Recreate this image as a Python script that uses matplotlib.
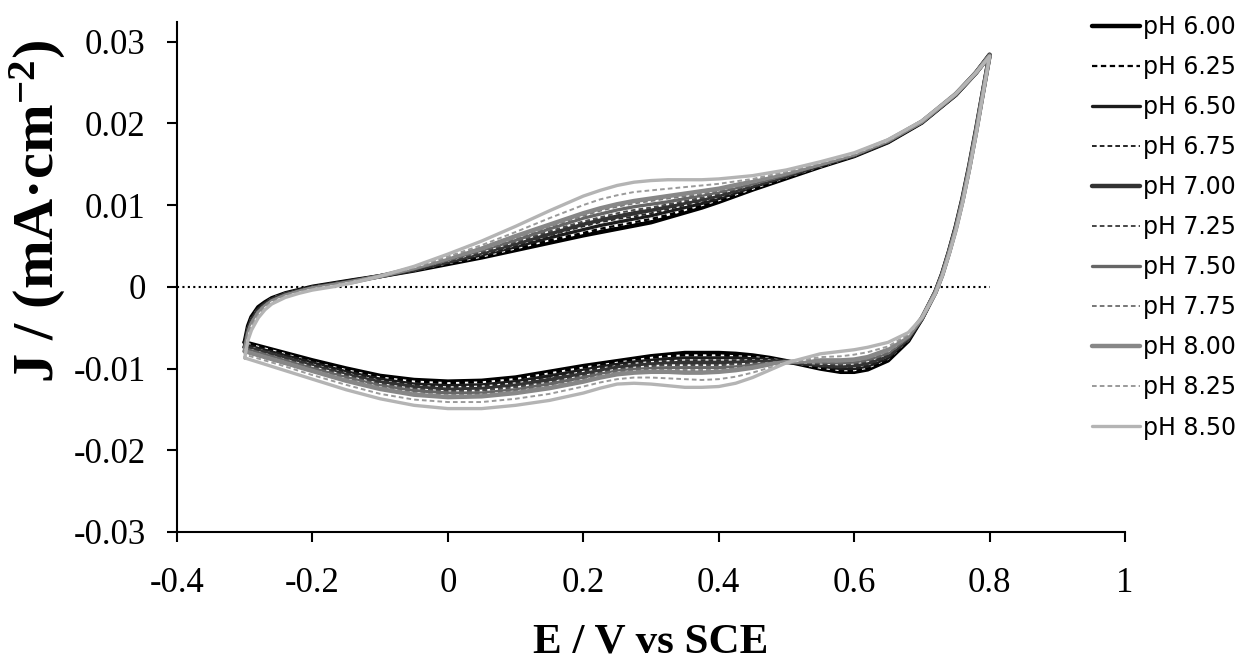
import matplotlib
matplotlib.use("Agg")
import matplotlib.pyplot as plt

# Potential sweep (V vs SCE): anodic scan -0.30 -> 0.80 V, then cathodic scan back to -0.30 V
potential = [
    -0.300, -0.295, -0.290, -0.280, -0.270, -0.260, -0.240, -0.220, -0.200,
    -0.170, -0.140, -0.100, -0.050, 0.000, 0.050, 0.100, 0.150, 0.200,
    0.225, 0.250, 0.275, 0.300, 0.325, 0.350, 0.375, 0.400, 0.450,
    0.500, 0.550, 0.600, 0.650, 0.700, 0.750, 0.780, 0.800,
    0.790, 0.780, 0.770, 0.760, 0.750, 0.740, 0.730, 0.720, 0.700, 0.680,
    0.650, 0.620, 0.600, 0.580, 0.550, 0.500, 0.475, 0.450, 0.425, 0.400,
    0.375, 0.350, 0.325, 0.300, 0.275, 0.250, 0.225, 0.200, 0.150, 0.100,
    0.050, 0.000, -0.050, -0.100, -0.150, -0.200, -0.250, -0.300,
]

# Current density J (mA/cm2) along the sweep for each buffer pH
j_ph600 = [
    -0.0068, -0.0048, -0.0037, -0.0025, -0.0019, -0.0014, -0.0008, -0.0004, 0.0000,
    0.0004, 0.0008, 0.0013, 0.0020, 0.0028, 0.0036, 0.0045, 0.0054, 0.0063,
    0.0067, 0.0071, 0.0075, 0.0079, 0.0085, 0.0091, 0.0097, 0.0104, 0.0119,
    0.0133, 0.0147, 0.0160, 0.0177, 0.0201, 0.0235, 0.0262, 0.0284,
    0.0238, 0.0192, 0.0148, 0.0108, 0.0073, 0.0043, 0.0016, -0.0006, -0.0039, -0.0066,
    -0.0090, -0.0101, -0.0104, -0.0104, -0.0100, -0.0091, -0.0087, -0.0084, -0.0082, -0.0081,
    -0.0081, -0.0081, -0.0083, -0.0085, -0.0088, -0.0091, -0.0094, -0.0097, -0.0104, -0.0111,
    -0.0115, -0.0116, -0.0114, -0.0109, -0.0100, -0.0090, -0.0079, -0.0068,
]
j_ph625 = [
    -0.0069, -0.0049, -0.0038, -0.0026, -0.0020, -0.0014, -0.0008, -0.0004, 0.0000,
    0.0004, 0.0008, 0.0013, 0.0020, 0.0029, 0.0037, 0.0047, 0.0057, 0.0066,
    0.0071, 0.0075, 0.0079, 0.0083, 0.0088, 0.0094, 0.0100, 0.0106, 0.0120,
    0.0134, 0.0147, 0.0160, 0.0177, 0.0201, 0.0235, 0.0262, 0.0284,
    0.0238, 0.0192, 0.0148, 0.0108, 0.0073, 0.0043, 0.0016, -0.0006, -0.0039, -0.0065,
    -0.0088, -0.0099, -0.0102, -0.0102, -0.0099, -0.0091, -0.0088, -0.0086, -0.0085, -0.0084,
    -0.0084, -0.0084, -0.0085, -0.0087, -0.0090, -0.0093, -0.0096, -0.0099, -0.0106, -0.0113,
    -0.0117, -0.0118, -0.0116, -0.0111, -0.0102, -0.0092, -0.0080, -0.0069,
]
j_ph650 = [
    -0.0071, -0.0051, -0.0039, -0.0027, -0.0020, -0.0015, -0.0009, -0.0005, -0.0001,
    0.0003, 0.0008, 0.0013, 0.0021, 0.0030, 0.0039, 0.0049, 0.0060, 0.0070,
    0.0075, 0.0079, 0.0083, 0.0087, 0.0092, 0.0097, 0.0102, 0.0108, 0.0122,
    0.0135, 0.0148, 0.0161, 0.0177, 0.0201, 0.0235, 0.0262, 0.0284,
    0.0237, 0.0191, 0.0147, 0.0107, 0.0072, 0.0042, 0.0016, -0.0006, -0.0039, -0.0064,
    -0.0087, -0.0097, -0.0100, -0.0100, -0.0097, -0.0091, -0.0089, -0.0088, -0.0087, -0.0087,
    -0.0087, -0.0087, -0.0088, -0.0090, -0.0092, -0.0095, -0.0098, -0.0102, -0.0109, -0.0116,
    -0.0120, -0.0121, -0.0119, -0.0113, -0.0104, -0.0093, -0.0082, -0.0071,
]
j_ph675 = [
    -0.0072, -0.0052, -0.0041, -0.0028, -0.0021, -0.0016, -0.0009, -0.0005, -0.0001,
    0.0003, 0.0007, 0.0013, 0.0021, 0.0031, 0.0040, 0.0051, 0.0063, 0.0074,
    0.0079, 0.0083, 0.0086, 0.0090, 0.0095, 0.0100, 0.0105, 0.0110, 0.0123,
    0.0135, 0.0148, 0.0161, 0.0178, 0.0201, 0.0235, 0.0262, 0.0284,
    0.0237, 0.0191, 0.0147, 0.0107, 0.0072, 0.0042, 0.0015, -0.0006, -0.0039, -0.0064,
    -0.0085, -0.0095, -0.0098, -0.0098, -0.0096, -0.0091, -0.0090, -0.0090, -0.0090, -0.0090,
    -0.0090, -0.0090, -0.0091, -0.0092, -0.0094, -0.0097, -0.0100, -0.0104, -0.0112, -0.0118,
    -0.0122, -0.0123, -0.0121, -0.0115, -0.0106, -0.0095, -0.0084, -0.0072,
]
j_ph700 = [
    -0.0074, -0.0053, -0.0042, -0.0029, -0.0022, -0.0016, -0.0009, -0.0005, -0.0001,
    0.0003, 0.0007, 0.0013, 0.0021, 0.0031, 0.0042, 0.0053, 0.0065, 0.0077,
    0.0082, 0.0086, 0.0090, 0.0094, 0.0098, 0.0103, 0.0107, 0.0112, 0.0124,
    0.0136, 0.0149, 0.0161, 0.0178, 0.0202, 0.0235, 0.0262, 0.0283,
    0.0237, 0.0190, 0.0146, 0.0106, 0.0072, 0.0042, 0.0015, -0.0007, -0.0039, -0.0063,
    -0.0084, -0.0093, -0.0096, -0.0097, -0.0095, -0.0092, -0.0092, -0.0092, -0.0093, -0.0093,
    -0.0093, -0.0093, -0.0094, -0.0095, -0.0097, -0.0099, -0.0103, -0.0107, -0.0114, -0.0121,
    -0.0125, -0.0126, -0.0123, -0.0117, -0.0108, -0.0097, -0.0085, -0.0074,
]
j_ph725 = [
    -0.0075, -0.0054, -0.0043, -0.0030, -0.0022, -0.0017, -0.0010, -0.0005, -0.0001,
    0.0003, 0.0007, 0.0013, 0.0022, 0.0032, 0.0043, 0.0055, 0.0068, 0.0080,
    0.0085, 0.0090, 0.0094, 0.0097, 0.0101, 0.0105, 0.0109, 0.0114, 0.0125,
    0.0137, 0.0149, 0.0161, 0.0178, 0.0202, 0.0235, 0.0262, 0.0283,
    0.0237, 0.0190, 0.0146, 0.0106, 0.0071, 0.0042, 0.0015, -0.0007, -0.0039, -0.0062,
    -0.0082, -0.0091, -0.0094, -0.0095, -0.0094, -0.0092, -0.0093, -0.0094, -0.0095, -0.0096,
    -0.0096, -0.0096, -0.0096, -0.0097, -0.0099, -0.0101, -0.0105, -0.0109, -0.0117, -0.0123,
    -0.0127, -0.0128, -0.0125, -0.0119, -0.0109, -0.0098, -0.0087, -0.0075,
]
j_ph750 = [
    -0.0076, -0.0055, -0.0044, -0.0031, -0.0023, -0.0017, -0.0010, -0.0006, -0.0002,
    0.0002, 0.0007, 0.0013, 0.0022, 0.0033, 0.0045, 0.0057, 0.0071, 0.0084,
    0.0089, 0.0094, 0.0098, 0.0101, 0.0104, 0.0108, 0.0112, 0.0116, 0.0126,
    0.0137, 0.0150, 0.0162, 0.0178, 0.0202, 0.0235, 0.0262, 0.0283,
    0.0236, 0.0189, 0.0145, 0.0105, 0.0071, 0.0041, 0.0015, -0.0007, -0.0039, -0.0062,
    -0.0081, -0.0089, -0.0092, -0.0093, -0.0092, -0.0092, -0.0094, -0.0096, -0.0098, -0.0099,
    -0.0099, -0.0099, -0.0099, -0.0100, -0.0101, -0.0103, -0.0107, -0.0111, -0.0119, -0.0126,
    -0.0130, -0.0130, -0.0127, -0.0121, -0.0111, -0.0100, -0.0088, -0.0076,
]
j_ph775 = [
    -0.0078, -0.0057, -0.0045, -0.0032, -0.0024, -0.0018, -0.0011, -0.0006, -0.0002,
    0.0002, 0.0006, 0.0013, 0.0023, 0.0034, 0.0046, 0.0060, 0.0074, 0.0087,
    0.0093, 0.0098, 0.0102, 0.0105, 0.0108, 0.0111, 0.0114, 0.0118, 0.0128,
    0.0138, 0.0150, 0.0162, 0.0179, 0.0202, 0.0236, 0.0262, 0.0283,
    0.0236, 0.0189, 0.0145, 0.0105, 0.0070, 0.0041, 0.0014, -0.0007, -0.0038, -0.0061,
    -0.0079, -0.0087, -0.0090, -0.0091, -0.0091, -0.0092, -0.0095, -0.0098, -0.0100, -0.0102,
    -0.0102, -0.0102, -0.0102, -0.0102, -0.0103, -0.0105, -0.0109, -0.0114, -0.0122, -0.0128,
    -0.0132, -0.0133, -0.0130, -0.0123, -0.0113, -0.0102, -0.0090, -0.0078,
]
j_ph800 = [
    -0.0079, -0.0058, -0.0046, -0.0032, -0.0024, -0.0018, -0.0011, -0.0006, -0.0002,
    0.0002, 0.0006, 0.0013, 0.0023, 0.0035, 0.0047, 0.0062, 0.0076, 0.0090,
    0.0096, 0.0101, 0.0105, 0.0108, 0.0111, 0.0114, 0.0117, 0.0120, 0.0129,
    0.0139, 0.0150, 0.0162, 0.0179, 0.0202, 0.0236, 0.0262, 0.0283,
    0.0236, 0.0189, 0.0145, 0.0105, 0.0070, 0.0041, 0.0014, -0.0007, -0.0038, -0.0060,
    -0.0077, -0.0086, -0.0089, -0.0090, -0.0090, -0.0092, -0.0095, -0.0099, -0.0102, -0.0104,
    -0.0105, -0.0105, -0.0104, -0.0104, -0.0105, -0.0107, -0.0111, -0.0116, -0.0124, -0.0130,
    -0.0134, -0.0135, -0.0132, -0.0125, -0.0115, -0.0103, -0.0091, -0.0079,
]
j_ph825 = [
    -0.0083, -0.0061, -0.0049, -0.0035, -0.0026, -0.0019, -0.0012, -0.0007, -0.0003,
    0.0001, 0.0006, 0.0013, 0.0024, 0.0037, 0.0051, 0.0067, 0.0084, 0.0100,
    0.0107, 0.0112, 0.0116, 0.0118, 0.0120, 0.0122, 0.0124, 0.0126, 0.0132,
    0.0141, 0.0152, 0.0163, 0.0179, 0.0203, 0.0236, 0.0262, 0.0282,
    0.0235, 0.0187, 0.0143, 0.0103, 0.0069, 0.0040, 0.0014, -0.0008, -0.0038, -0.0058,
    -0.0073, -0.0080, -0.0083, -0.0085, -0.0086, -0.0093, -0.0099, -0.0105, -0.0110, -0.0113,
    -0.0114, -0.0113, -0.0112, -0.0111, -0.0111, -0.0113, -0.0117, -0.0122, -0.0131, -0.0137,
    -0.0141, -0.0141, -0.0138, -0.0131, -0.0120, -0.0108, -0.0095, -0.0083,
]
j_ph850 = [
    -0.0087, -0.0065, -0.0053, -0.0038, -0.0028, -0.0021, -0.0013, -0.0008, -0.0004,
    0.0000, 0.0005, 0.0013, 0.0025, 0.0040, 0.0056, 0.0074, 0.0093, 0.0111,
    0.0118, 0.0124, 0.0128, 0.0130, 0.0131, 0.0131, 0.0131, 0.0132, 0.0136,
    0.0143, 0.0153, 0.0164, 0.0180, 0.0203, 0.0236, 0.0262, 0.0282,
    0.0234, 0.0186, 0.0142, 0.0102, 0.0068, 0.0039, 0.0013, -0.0008, -0.0038, -0.0056,
    -0.0068, -0.0074, -0.0077, -0.0079, -0.0082, -0.0093, -0.0102, -0.0111, -0.0118, -0.0122,
    -0.0123, -0.0123, -0.0121, -0.0119, -0.0118, -0.0119, -0.0124, -0.0130, -0.0139, -0.0145,
    -0.0149, -0.0149, -0.0145, -0.0137, -0.0126, -0.0113, -0.0100, -0.0087,
]

series_labels = ["pH 6.00", "pH 6.25", "pH 6.50", "pH 6.75", "pH 7.00", "pH 7.25",
                 "pH 7.50", "pH 7.75", "pH 8.00", "pH 8.25", "pH 8.50"]
series_values = [j_ph600, j_ph625, j_ph650, j_ph675, j_ph700, j_ph725,
                 j_ph750, j_ph775, j_ph800, j_ph825, j_ph850]

x_ticks = [-0.4, -0.2, 0.0, 0.2, 0.4, 0.6, 0.8, 1.0]
x_tick_labels = ["-0.4", "-0.2", "0", "0.2", "0.4", "0.6", "0.8", "1"]
y_ticks = [-0.03, -0.02, -0.01, 0.0, 0.01, 0.02, 0.03]
y_tick_labels = ["-0.03", "-0.02", "-0.01", "0", "0.01", "0.02", "0.03"]

# Line appearance for each series: (colour, linestyle, width)
line_styles = [
    ("#000000", "-", 3.2),
    ("#000000", "--", 1.6),
    ("#1c1c1c", "-", 2.4),
    ("#262626", "--", 1.4),
    ("#333333", "-", 3.2),
    ("#484848", "--", 1.4),
    ("#666666", "-", 2.4),
    ("#777777", "--", 1.4),
    ("#878787", "-", 3.2),
    ("#9a9a9a", "--", 1.4),
    ("#b4b4b4", "-", 2.4),
]

plt.rcParams["font.family"] = ["Liberation Serif", "DejaVu Serif"]
plt.rcParams["axes.unicode_minus"] = False
plt.rcParams["mathtext.fontset"] = "custom"
plt.rcParams["mathtext.rm"] = "Liberation Serif:bold"
plt.rcParams["mathtext.it"] = "Liberation Serif:bold:italic"
plt.rcParams["mathtext.bf"] = "Liberation Serif:bold"

W, H = 1243, 668
fig = plt.figure(figsize=(W / 100, H / 100), dpi=100)
ax = fig.add_axes([177 / W, 136 / H, 948 / W, 510 / H])

# dotted zero-current reference line
ax.hlines(0, x_ticks[0], max(potential), colors="black",
          linestyles=(0, (1, 1.6)), linewidth=1.5, zorder=1)

for label, values, (color, ls, lw) in zip(series_labels, series_values, line_styles):
    kw = dict(color=color, linewidth=lw, label=label,
              solid_joinstyle="round", solid_capstyle="round", zorder=2)
    if ls == "--":
        kw.update(linestyle=(0, (2.4, 1.6)), gapcolor="white", dash_capstyle="butt")
    ax.plot(potential, values, **kw)

ax.set_xlim(-0.4, 1.0)
ax.set_ylim(-0.03, 0.0324)
ax.set_xticks(x_ticks)
ax.set_xticklabels(x_tick_labels)
ax.set_yticks(y_ticks)
ax.set_yticklabels(y_tick_labels)

for side in ("top", "right"):
    ax.spines[side].set_visible(False)
for side in ("left", "bottom"):
    ax.spines[side].set_linewidth(1.5)

ax.tick_params(axis="both", direction="out", length=7.5, width=1.5, labelsize=25)
ax.tick_params(axis="x", pad=18)
ax.tick_params(axis="y", pad=15)

ax.set_xlabel("E / V vs SCE", fontsize=31, fontweight="bold")
ax.xaxis.set_label_coords(0.5, -0.18)
ax.set_ylabel(r"J / (mA·cm$^{-2}$)", fontsize=42, fontweight="bold")
ax.yaxis.set_label_coords(-0.115, 0.629)

ax.legend(loc="upper left", bbox_to_anchor=(1092 / W, 1 - 15 / H),
          bbox_transform=fig.transFigure, frameon=False,
          prop={"family": "DejaVu Sans", "size": 17},
          handlelength=2.05, handletextpad=0.1, labelspacing=0.68,
          borderpad=0, borderaxespad=0)

fig.savefig("out.png", dpi=100)
